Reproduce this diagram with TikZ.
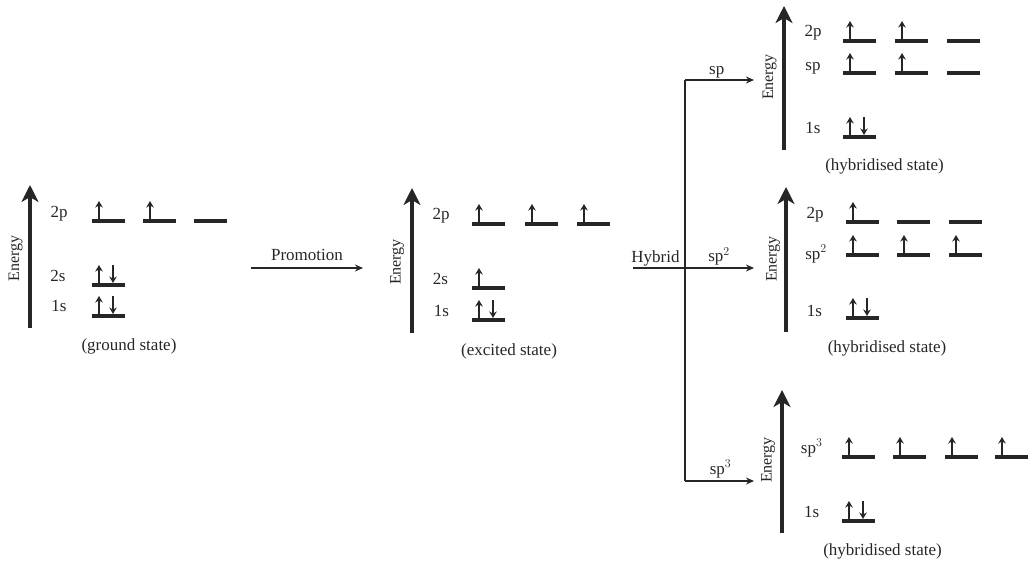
\documentclass[tikz,border=0pt]{standalone}
\usepackage{fontspec}
\setmainfont{Liberation Serif}
\usetikzlibrary{arrows.meta}
\definecolor{ink}{HTML}{262626}
\newcommand\lvE[2]{\draw[level] (#1,#2) -- ++(33,0);}
\newcommand\lvU[2]{\lvE{#1}{#2}\draw[spin] ({#1+7},{#2-2}) -- ({#1+7},{#2-20});}
\newcommand\lvUD[2]{\lvU{#1}{#2}\draw[spin] ({#1+21},{#2-20}) -- ({#1+21},{#2-2});}
\begin{document}
\begin{tikzpicture}[x=1pt,y=-1pt,
  every node/.style={text=ink,font=\fontsize{17}{19}\selectfont,inner sep=0pt},
  lab/.style={anchor=base},
  energy/.style={draw=ink,line width=4.5pt,-{Stealth[length=17pt,width=17pt,inset=5pt]}},
  level/.style={draw=ink,line width=4.5pt},
  spin/.style={draw=ink,line width=2pt,-{Stealth[length=6.5pt,width=7.5pt]}},
  flow/.style={draw=ink,line width=1.4pt,-{Stealth[length=8pt,width=7pt]}},
  line/.style={draw=ink,line width=1.4pt},
  elab/.style={rotate=90,font=\fontsize{16}{18}\selectfont},
]
\useasboundingbox (0,0) rectangle (1032,562);

% ---------- ground state ----------
\coordinate (e1b) at (30,328); \coordinate (e1t) at (30,185);
\draw[energy] (e1b) -- (e1t);
\node[elab] (en1) at (15.5,258.5) {Energy};
\node[lab] (g2p) at (59,217) {2p};
\node[lab] (g2s) at (58,281.5) {2s};
\node[lab] (g1s) at (59,311.5) {1s};
\lvU{92}{221}\lvU{143}{221}\lvE{194}{221}
\lvUD{92}{285}
\lvUD{92}{316}
\node[lab] (gst) at (129,350.5) {(ground state)};

% ---------- promotion ----------
\coordinate (pa) at (251,268); \coordinate (pb) at (363,268);
\draw[flow] (pa) -- (pb);
\node[lab] (prom) at (307,260) {Promotion};

% ---------- excited state ----------
\coordinate (e2b) at (412,333); \coordinate (e2t) at (412,188);
\draw[energy] (e2b) -- (e2t);
\node[elab] (en2) at (397,262) {Energy};
\node[lab] (x2p) at (441,219) {2p};
\node[lab] (x2s) at (440.5,284) {2s};
\node[lab] (x1s) at (441.5,316.5) {1s};
\lvU{472}{224}\lvU{525}{224}\lvU{577}{224}
\lvU{472}{288}
\lvUD{472}{320}
\node[lab] (xst) at (509,355) {(excited state)};

% ---------- hybrid connectors ----------
\coordinate (hs) at (633,268); \coordinate (ht) at (685,80);
\coordinate (hb) at (685,481);
\coordinate (s1) at (754,80); \coordinate (s2) at (754,268); \coordinate (s3) at (754,481);
\draw[line] (ht) -- (hb);
\draw[flow] (hs) -- (s2);
\draw[flow] (ht) -- (s1);
\draw[flow] (hb) -- (s3);
\node[lab] (hyb) at (655.5,262) {Hybrid};
\node[lab] (bsp) at (716.7,74) {sp};
\node[lab] (bsp2) at (719,261.5) {sp$^{2}$};
\node[lab] (bsp3) at (720.5,474) {sp$^{3}$};

% ---------- sp ----------
\coordinate (e3b) at (784,150); \coordinate (e3t) at (784,6);
\draw[energy] (e3b) -- (e3t);
\node[elab] (en3) at (769.7,77) {Energy};
\node[lab] (a2p) at (813,36.5) {2p};
\node[lab] (asp) at (813,70) {sp};
\node[lab] (a1s) at (813,133) {1s};
\lvU{843}{41}\lvU{895}{41}\lvE{947}{41}
\lvU{843}{73}\lvU{895}{73}\lvE{947}{73}
\lvUD{843}{137}
\node[lab] (ast) at (884.5,170) {(hybridised state)};

% ---------- sp2 ----------
\coordinate (e4b) at (786,332); \coordinate (e4t) at (786,187);
\draw[energy] (e4b) -- (e4t);
\node[elab] (en4) at (773,259) {Energy};
\node[lab] (b2p) at (815,218) {2p};
\node[lab] (bsp2l) at (816,259) {sp$^{2}$};
\node[lab] (b1s) at (814.5,316) {1s};
\lvU{846}{222}\lvE{897}{222}\lvE{949}{222}
\lvU{846}{255}\lvU{897}{255}\lvU{949}{255}
\lvUD{846}{318}
\node[lab] (bst) at (887,352.5) {(hybridised state)};

% ---------- sp3 ----------
\coordinate (e5b) at (782,533); \coordinate (e5t) at (782,390);
\draw[energy] (e5b) -- (e5t);
\node[elab] (en5) at (768,460) {Energy};
\node[lab] (csp3) at (811.7,453) {sp$^{3}$};
\node[lab] (c1s) at (811.7,517) {1s};
\lvU{842}{457}\lvU{893}{457}\lvU{945}{457}\lvU{995}{457}
\lvUD{842}{521}
\node[lab] (cst) at (882.5,555) {(hybridised state)};
\end{tikzpicture}
\end{document}
